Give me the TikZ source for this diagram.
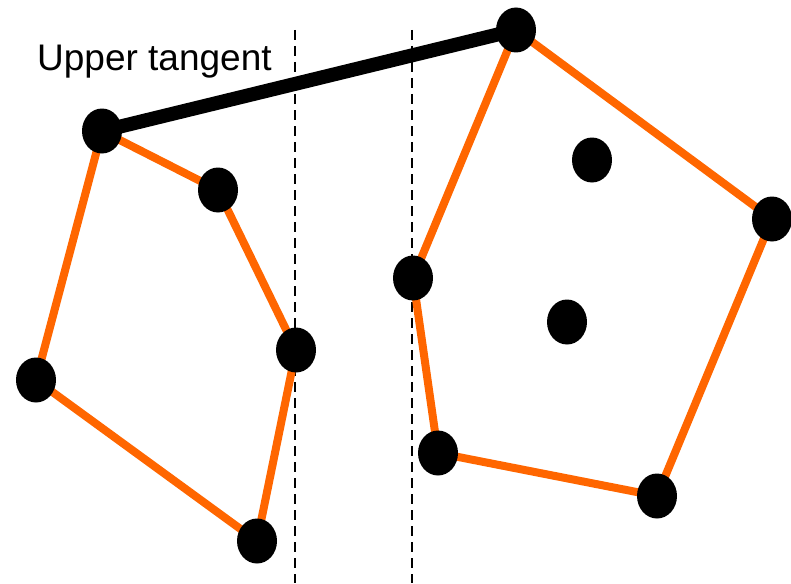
\documentclass[tikz,border=0pt]{standalone}
\usepackage{fontspec}
\setmainfont{Liberation Sans}
\usetikzlibrary{shapes.geometric}
\definecolor{hullorange}{RGB}{255,102,0}
\tikzset{
  pt/.style={ellipse,fill=black,minimum width=40pt,minimum height=45pt,inner sep=0pt},
  hull/.style={draw=hullorange,line width=8pt},
  tangent/.style={draw=black,line width=14pt},
  divider/.style={draw=black,line width=2.5pt,dash pattern=on 10pt off 6pt}
}
\begin{document}
\begin{tikzpicture}[x=1pt,y=-1pt]
\useasboundingbox (0,0) rectangle (791,583);
\coordinate (d1t) at (295,30); \coordinate (d1b) at (295,583);
\coordinate (d2t) at (412,30); \coordinate (d2b) at (412,583);
\draw[divider] (d1t) -- (d1b);
\draw[divider] (d2t) -- (d2b);
\coordinate (A) at (102,131);
\coordinate (B) at (218,190);
\coordinate (C) at (296,350);
\coordinate (D) at (257,541);
\coordinate (E) at (36,380);
\coordinate (F) at (516,30);
\coordinate (G) at (772,219);
\coordinate (H) at (657,496);
\coordinate (I) at (438,453);
\coordinate (J) at (413,278);
\coordinate (P) at (592,160);
\coordinate (Q) at (567,322);
\draw[hull,line join=round] (A) -- (B) -- (C) -- (D) -- (E) -- cycle;
\draw[hull,line join=round] (F) -- (G) -- (H) -- (I) -- (J) -- cycle;
\draw[tangent] (A) -- (F);
\foreach \p in {A,B,C,D,E,F,G,H,I,J,P,Q}
  \node[pt] (n\p) at (\p) {};
\node[anchor=base west,font=\fontsize{37}{41}\selectfont,inner sep=0pt] (lbl) at (37,71) {Upper tangent};
\end{tikzpicture}
\end{document}
